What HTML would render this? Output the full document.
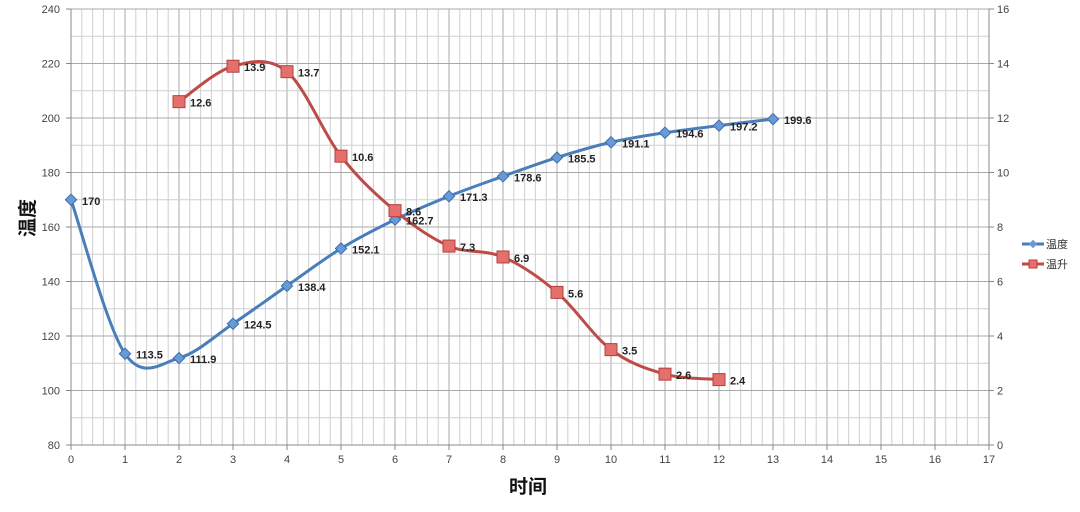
<!DOCTYPE html><html><head><meta charset="utf-8"><style>body{margin:0;background:#fff}svg{display:block;font-family:"Liberation Sans","Noto Sans CJK SC",sans-serif}</style></head><body>
<svg id="s" width="1080" height="512" xmlns="http://www.w3.org/2000/svg"></svg>
<script>
const s=document.getElementById('s');let h='';
const X=v=>71+v*54, YL=v=>445-(v-80)*2.725, YR=v=>445-v*27.25;
for(let i=0;i<=85;i++){const x=71+i*10.8;h+=`<line x1="${x}" y1="9" x2="${x}" y2="445" stroke="${i%5?'#cfcfcf':'#a8a8a8'}" stroke-width="1"/>`;}
for(let v=80;v<=240;v+=10){const y=YL(v);h+=`<line x1="71" y1="${y}" x2="989" y2="${y}" stroke="${v%20?'#cfcfcf':'#a8a8a8'}"/>`;}
h+=`<line x1="71" y1="9" x2="71" y2="445" stroke="#888"/><line x1="989" y1="9" x2="989" y2="445" stroke="#888"/><line x1="71" y1="445" x2="989" y2="445" stroke="#888"/>`;
for(let v=80;v<=240;v+=20)h+=`<text x="60" y="${YL(v)+4}" font-size="11" fill="#444" text-anchor="end">${v}</text><line x1="66" x2="71" y1="${YL(v)}" y2="${YL(v)}" stroke="#888"/>`;
for(let v=0;v<=16;v+=2)h+=`<text x="997" y="${YR(v)+4}" font-size="11" fill="#444">${v}</text><line x1="989" x2="994" y1="${YR(v)}" y2="${YR(v)}" stroke="#888"/>`;
for(let v=0;v<=17;v++)h+=`<text x="${X(v)}" y="463" font-size="11" fill="#444" text-anchor="middle">${v}</text><line x1="${X(v)}" x2="${X(v)}" y1="445" y2="450" stroke="#888"/>`;
function path(p){let d=`M${p[0][0]},${p[0][1]}`;for(let i=0;i<p.length-1;i++){const a=p[i-1]||p[i],b=p[i],c=p[i+1],e=p[i+2]||c;d+=`C${b[0]+(c[0]-a[0])/6},${b[1]+(c[1]-a[1])/6} ${c[0]-(e[0]-b[0])/6},${c[1]-(e[1]-b[1])/6} ${c[0]},${c[1]}`;}return d;}
const T=[170,113.5,111.9,124.5,138.4,152.1,162.7,171.3,178.6,185.5,191.1,194.6,197.2,199.6];
const R=[[2,12.6],[3,13.9],[4,13.7],[5,10.6],[6,8.6],[7,7.3],[8,6.9],[9,5.6],[10,3.5],[11,2.6],[12,2.4]];
const tp=T.map((v,i)=>[X(i),YL(v)]), rp=R.map(([i,v])=>[X(i),YR(v)]);
h+=`<path d="${path(tp)}" fill="none" stroke="#4a7ebb" stroke-width="3"/>`;
tp.forEach(p=>h+=`<rect x="${p[0]-4}" y="${p[1]-4}" width="8" height="8" fill="#6a9ad6" stroke="#3d6fae" transform="rotate(45 ${p[0]} ${p[1]})"/>`);
h+=`<path d="${path(rp)}" fill="none" stroke="#be4b48" stroke-width="3"/>`;
rp.forEach(p=>h+=`<rect x="${p[0]-6}" y="${p[1]-6}" width="12" height="12" fill="#e46f6c" stroke="#b4403d"/>`);
tp.forEach((p,i)=>h+=`<text x="${p[0]+11}" y="${p[1]+5}" font-size="11" font-weight="bold" fill="#222">${T[i]}</text>`);
rp.forEach((p,i)=>h+=`<text x="${p[0]+11}" y="${p[1]+5}" font-size="11" font-weight="bold" fill="#222">${R[i][1]}</text>`);
h+=`<text x="528" y="493" font-size="19" font-weight="bold" text-anchor="middle" fill="#111">时间</text>`;
h+=`<text transform="translate(34,218) rotate(-90)" font-size="19" font-weight="bold" text-anchor="middle" fill="#111">温度</text>`;
h+=`<line x1="1022" x2="1044" y1="244" y2="244" stroke="#4a7ebb" stroke-width="3"/><rect x="1030" y="241" width="6" height="6" fill="#6a9ad6" transform="rotate(45 1033 244)"/><text x="1046" y="248" font-size="11" fill="#333">温度</text>`;
h+=`<line x1="1022" x2="1044" y1="264" y2="264" stroke="#be4b48" stroke-width="3"/><rect x="1029" y="260" width="8" height="8" fill="#e46f6c" stroke="#b4403d"/><text x="1046" y="268" font-size="11" fill="#333">温升</text>`;
s.innerHTML=h;
</script></body></html>
